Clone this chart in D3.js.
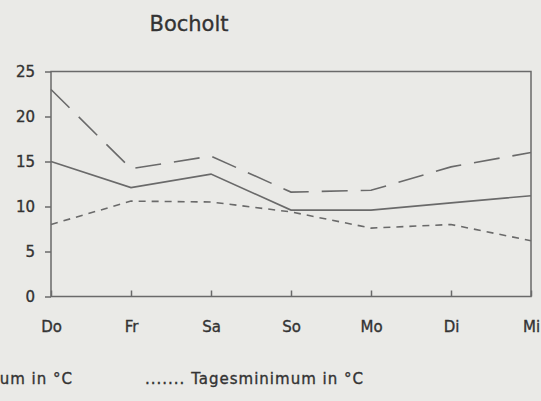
<!DOCTYPE html>
<html>
<head>
<meta charset="utf-8">
<script src="https://cdn.jsdelivr.net/npm/d3@7"></script>
<style>
  html, body { margin: 0; padding: 0; background: #eaeae7; overflow: hidden; }
  svg { display: block; font-family: "DejaVu Sans", sans-serif; }
  .lbl { stroke: #333; stroke-width: 0.35px; }
</style>
</head>
<body>
<svg id="chart" width="541" height="401"></svg>
<script>
// data
const days = ["Do", "Fr", "Sa", "So", "Mo", "Di", "Mi"];
const tempMean = [15.0, 12.1, 13.6, 9.6, 9.6, 10.4, 11.2];
const tempMax = [23.0, 14.2, 15.6, 11.6, 11.8, 14.4, 16.0];
const tempMin = [8.0, 10.6, 10.5, 9.4, 7.6, 8.0, 6.2];
const yTicks = [0, 5, 10, 15, 20, 25];

const svg = d3.select("#chart");
const ink = "#333", lineCol = "#6a6a6a";
const plotL = 51, plotR = 531, plotT = 71.5, plotB = 296.5;

const x = d3.scalePoint().domain(days).range([plotL, plotR]).padding(0);
const y = d3.scaleLinear().domain([0, 25]).range([plotB, plotT]);

// title
svg.append("text")
    .attr("class", "lbl")
    .attr("x", 189).attr("y", 31)
    .attr("text-anchor", "middle")
    .attr("font-size", 21).attr("fill", ink)
    .text("Bocholt");

// frame
svg.append("rect")
    .attr("x", plotL).attr("y", plotT)
    .attr("width", plotR - plotL).attr("height", plotB - plotT)
    .attr("fill", "none").attr("stroke", lineCol).attr("stroke-width", 1.5);

// y axis
const yAxis = svg.append("g")
    .attr("transform", `translate(${plotL},0)`)
    .call(d3.axisLeft(y).tickValues(yTicks).tickSize(6).tickPadding(10).tickFormat(d3.format("d")));
yAxis.select(".domain").remove();
yAxis.selectAll("line").attr("stroke", lineCol).attr("stroke-width", 1.5);
yAxis.selectAll("text").attr("class", "lbl").attr("font-size", 15).attr("fill", ink)
    .attr("font-family", "DejaVu Sans, sans-serif");

// x axis, ticks point inward
const xAxis = svg.append("g")
    .attr("transform", `translate(0,${plotB})`)
    .call(d3.axisBottom(x).tickSizeInner(-6).tickSizeOuter(0).tickPadding(25));
xAxis.select(".domain").remove();
xAxis.selectAll("line").attr("stroke", lineCol).attr("stroke-width", 1.5);
xAxis.selectAll("text").attr("class", "lbl").attr("font-size", 15).attr("fill", ink)
    .attr("font-family", "DejaVu Sans, sans-serif");

// series
const line = d3.line().x((d, i) => x(days[i])).y(d => y(d));
const series = [
    {vals: tempMax, dash: "26,13"},
    {vals: tempMean, dash: null},
    {vals: tempMin, dash: "7,6"}
];
svg.selectAll(".series").data(series).enter().append("path")
    .attr("class", "series")
    .attr("d", d => line(d.vals))
    .attr("fill", "none")
    .attr("stroke", lineCol)
    .attr("stroke-width", 1.6)
    .attr("stroke-dasharray", d => d.dash);

// legend (partly outside the window on the left, as in the scan)
svg.append("text")
    .attr("class", "lbl")
    .attr("x", 73).attr("y", 384)
    .attr("text-anchor", "end")
    .attr("font-size", 15).attr("letter-spacing", 1).attr("fill", ink)
    .text("— — Tagesmaximum in °C");
svg.append("text")
    .attr("class", "lbl")
    .attr("x", 145).attr("y", 384)
    .attr("font-size", 15).attr("letter-spacing", 1).attr("fill", ink)
    .text("....... Tagesminimum in °C");
</script>
</body>
</html>
